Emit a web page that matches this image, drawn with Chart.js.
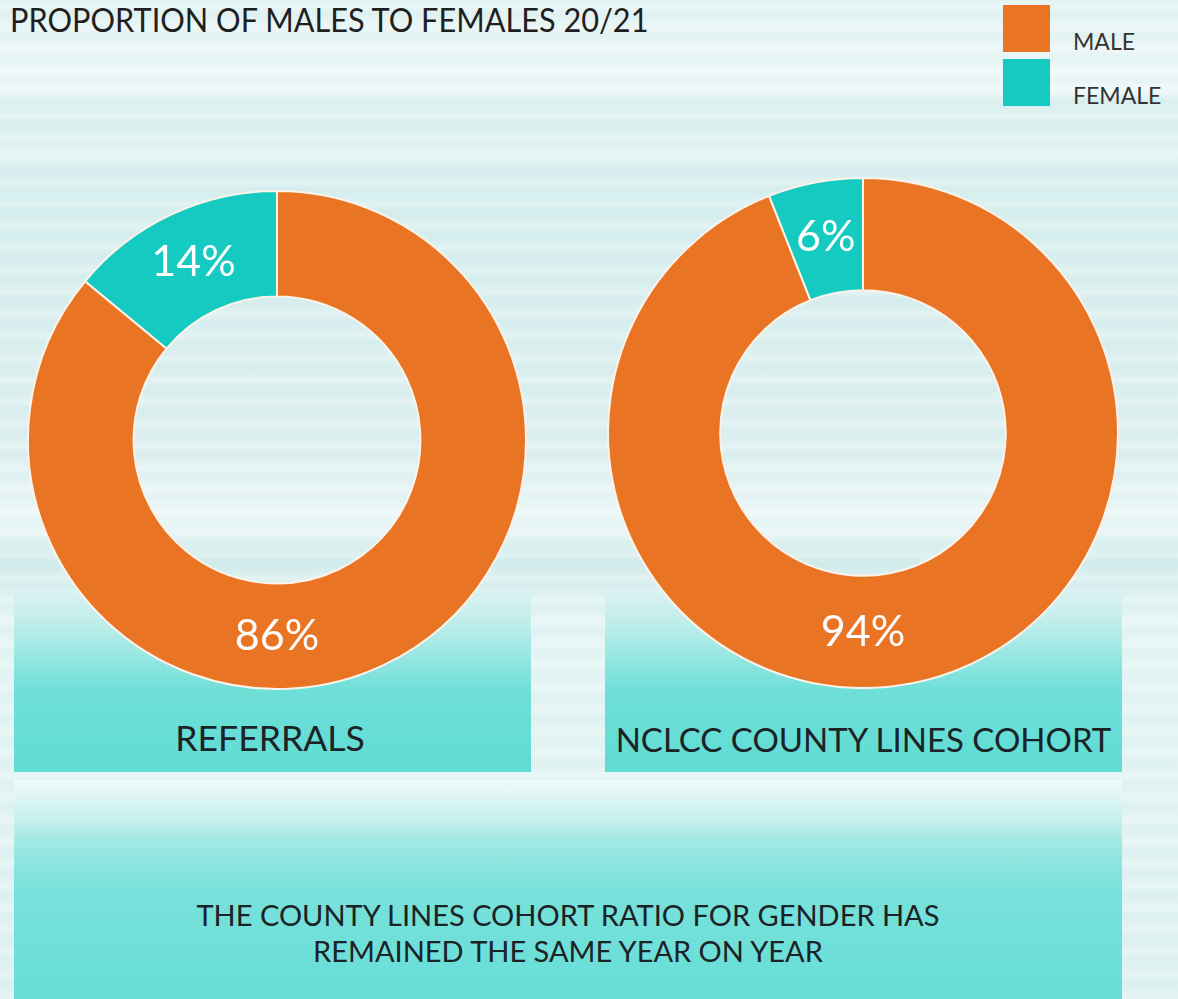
<!DOCTYPE html>
<html>
<head>
<meta charset="utf-8">
<script src="https://cdn.jsdelivr.net/npm/chart.js@4"></script>
<style>
  html, body { margin:0; padding:0; }
  body {
    width:1178px; height:999px; position:relative; overflow:hidden;
    font-family: "Segoe UI", Lato, "Open Sans", sans-serif;
    background:
      linear-gradient(180deg, rgba(255,255,255,0.0) 0px, rgba(255,255,255,0.55) 90px, rgba(255,255,255,0.0) 96px, rgba(255,255,255,0) 140px, rgba(255,255,255,0.5) 150px, rgba(255,255,255,0) 160px),
      linear-gradient(180deg, #e4f3f3 0px, #d8efef 200px, #deefef 450px, #eef8f8 520px, #d3ecec 560px, #e6f5f5 620px, #dff1f1 1000px);
  }
  .stripes {
    position:absolute; left:0; top:0; width:1178px; height:999px;
    background: repeating-linear-gradient(180deg, rgba(255,255,255,0.0) 0px, rgba(255,255,255,0.25) 6px, rgba(190,225,225,0.15) 13px, rgba(255,255,255,0.0) 22px);
  }
  .title {
    position:absolute; left:10px; top:-1px; font-size:33px; color:#1f1f22;
    white-space:nowrap; transform-origin:0 0; transform:scaleX(0.93);
  }
  .legend { position:absolute; left:1003px; top:5px; }
  .legend .item { position:relative; height:54px; }
  .legend .sw { position:absolute; left:0; top:0; width:47px; height:47px; }
  .legend .lb { position:absolute; left:70px; top:22px; font-size:23px; color:#333; white-space:nowrap; }
  .panel {
    position:absolute;
    background: linear-gradient(180deg, rgba(220,243,243,0.9) 0px, #b7ece9 40px, #6fdfd8 100px, #5fdcd4 182px);
  }
  .panel .cap {
    position:absolute; left:0; right:0; bottom:13px; text-align:center;
    color:#1b2326; white-space:nowrap;
  }
  .bottom {
    position:absolute; left:14px; top:780px; width:1108px; height:219px;
    background: linear-gradient(180deg, rgba(240,250,250,0.9) 0px, #c6f0ee 40px, #a2e8e4 60px, #79e1db 110px, #66ded7 219px);
  }
  .bottom .txt {
    position:absolute; left:0; right:0; top:117px; text-align:center;
    font-size:29px; line-height:36px; color:#1b2326;
  }
  canvas { position:absolute; }
</style>
</head>
<body>
<div class="stripes"></div>
<div class="title" id="title"></div>
<div class="legend" id="legend"></div>

<div class="panel" style="left:14px; top:590px; width:517px; height:182px;"><div class="cap" id="cap1" style="font-size:35.5px; left:-5px;"></div></div>
<div class="panel" style="left:605px; top:590px; width:517px; height:182px;"><div class="cap" id="cap2" style="font-size:33px;"></div></div>
<div class="bottom"><div class="txt" id="note"></div></div>

<div id="w1" style="position:absolute; left:27px; top:190px; width:500px; height:500px;"><canvas id="c1"></canvas></div>
<div id="w2" style="position:absolute; left:607px; top:177px; width:512px; height:512px;"><canvas id="c2"></canvas></div>

<script>
// ---- data ----
const titleText = "PROPORTION OF MALES TO FEMALES 20/21";
const categories = ["MALE", "FEMALE"];
const colors = ["#E97524", "#15CAC0"];
const referralsLabel = "REFERRALS";
const referralsValues = [86, 14];
const cohortLabel = "NCLCC COUNTY LINES COHORT";
const cohortValues = [94, 6];
const noteLines = ["THE COUNTY LINES COHORT RATIO FOR GENDER HAS", "REMAINED THE SAME YEAR ON YEAR"];

document.getElementById('title').textContent = titleText;
document.getElementById('cap1').textContent = referralsLabel;
document.getElementById('cap2').textContent = cohortLabel;
document.getElementById('note').innerHTML = noteLines.join('<br>');
const lg = document.getElementById('legend');
categories.forEach((c, i) => {
  const it = document.createElement('div'); it.className = 'item';
  it.innerHTML = '<div class="sw" style="background:' + colors[i] + '"></div><div class="lb">' + c + '</div>';
  lg.appendChild(it);
});

const labelPlugin = {
  id: 'sliceLabels',
  afterDatasetsDraw(chart) {
    const ctx = chart.ctx;
    const meta = chart.getDatasetMeta(0);
    const vals = chart.data.datasets[0].data;
    ctx.save();
    ctx.fillStyle = '#ffffff';
    ctx.font = '43px "Segoe UI", Lato, "Open Sans", sans-serif';
    ctx.textAlign = 'center';
    ctx.textBaseline = 'middle';
    meta.data.forEach((arc, i) => {
      const p = arc.getProps(['x','y','startAngle','endAngle','innerRadius','outerRadius'], true);
      let a;
      const bottom = Math.PI / 2;
      if (p.startAngle <= bottom && p.endAngle >= bottom) a = bottom;
      else a = (p.startAngle + p.endAngle) / 2;
      const r = (p.innerRadius + p.outerRadius) / 2;
      ctx.fillText(vals[i] + '%', p.x + Math.cos(a) * r, p.y + Math.sin(a) * r);
    });
    ctx.restore();
  }
};

function makeChart(id, values, cutout) {
  return new Chart(document.getElementById(id), {
    type: 'doughnut',
    data: {
      labels: categories,
      datasets: [{ data: values, backgroundColor: colors, borderColor: '#fbf3ea', borderWidth: 2 }]
    },
    options: {
      responsive: true, maintainAspectRatio: false, animation: false,
      cutout: cutout,
      layout: { padding: 0 },
      plugins: { legend: { display: false }, tooltip: { enabled: false } }
    },
    plugins: [labelPlugin]
  });
}
makeChart('c1', referralsValues, '57.6%');
makeChart('c2', cohortValues, '56%');
</script>
</body>
</html>
